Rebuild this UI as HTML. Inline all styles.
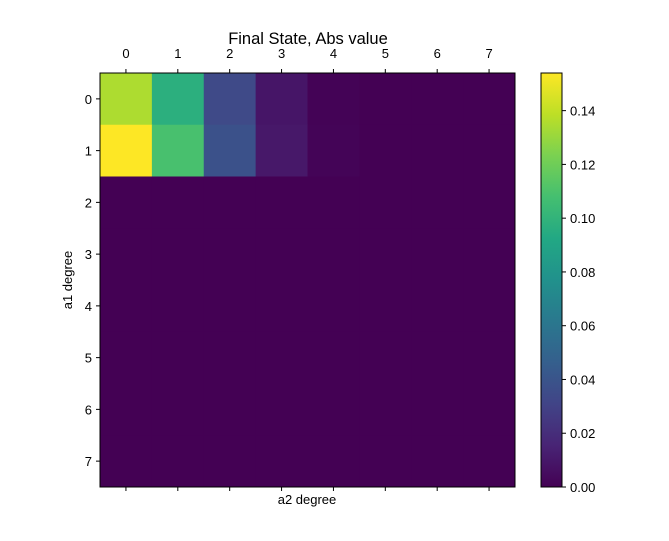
<!DOCTYPE html>
<html><head><meta charset="utf-8"><style>
body{margin:0;background:#fff;}
svg text{font-family:"Liberation Sans","DejaVu Sans",sans-serif;fill:#000;}
</style></head><body>
<svg id="c" width="669" height="536" xmlns="http://www.w3.org/2000/svg">
<defs><linearGradient id="vg" x1="0" y1="1" x2="0" y2="0"></linearGradient></defs>
<text x="308" y="44" font-size="16.5" text-anchor="middle">Final State, Abs value</text>
<text x="307" y="504" font-size="13" text-anchor="middle">a2 degree</text>
<text transform="translate(72,280) rotate(-90)" font-size="13" text-anchor="middle">a1 degree</text>
<g id="cells"></g>
<g id="axes"></g>
</svg>
<script>
const xLabels=['0','1','2','3','4','5','6','7'];
const yLabels=['0','1','2','3','4','5','6','7'];
const row0=[0.135,0.097,0.034,0.009,0.001,0,0,0];
const row1=[0.154,0.109,0.038,0.010,0.0015,0,0,0];
const rowsRest=[0,0,0,0,0,0,0,0];
const cbTicks=[0,0.02,0.04,0.06,0.08,0.10,0.12,0.14];
const vmin=0,vmax=0.154;
const values=[row0,row1,rowsRest,rowsRest,rowsRest,rowsRest,rowsRest,rowsRest];
const NS='http://www.w3.org/2000/svg';
const stops=['#440154','#482475','#414487','#355f8d','#2a788e','#21918c','#22a884','#44bf70','#7ad151','#bddf26','#fde725'];
function hx(h){return [1,3,5].map(i=>parseInt(h.substr(i,2),16));}
function viridis(t){t=Math.max(0,Math.min(1,t));const p=t*10,i=Math.min(9,Math.floor(p)),f=p-i;const a=hx(stops[i]),b=hx(stops[i+1]);return 'rgb('+a.map((v,k)=>Math.round(v+(b[k]-v)*f)).join(',')+')';}
const L=100,T=73,W=415,H=414;
const cw=W/xLabels.length,ch=H/yLabels.length;
const xs=i=>L+i*cw, ys=j=>T+j*ch;
const svg=document.getElementById('c');
const cells=document.getElementById('cells'),axes=document.getElementById('axes');
function mk(tag,attrs,parent){const e=document.createElementNS(NS,tag);for(const k in attrs)e.setAttribute(k,attrs[k]);parent.appendChild(e);return e;}
values.forEach((row,j)=>row.forEach((v,i)=>{
 const r=mk('rect',{x:xs(i),y:ys(j),width:cw+0.5,height:ch+0.5,fill:viridis((v-vmin)/(vmax-vmin))},cells);
 
 
}));
const fr=mk('rect',{x:L,y:T,width:W,height:H,fill:'none',stroke:'#000','stroke-width':1},axes);


xLabels.forEach((s,i)=>{
 const x=xs(i)+cw/2;
 mk('line',{x1:x,y1:T,x2:x,y2:T-4,stroke:'#000'},axes);
 mk('line',{x1:x,y1:T+H,x2:x,y2:T+H+4,stroke:'#000'},axes);
 const t=mk('text',{x:x,y:T-15,'font-size':13,'text-anchor':'middle'},axes);t.textContent=s;
 
 
});
yLabels.forEach((s,j)=>{
 const y=ys(j)+ch/2;
 mk('line',{x1:L,y1:y,x2:L-4,y2:y,stroke:'#000'},axes);
 const t=mk('text',{x:L-8,y:y+5,'font-size':13,'text-anchor':'end'},axes);t.textContent=s;
 
 
});
const g=document.getElementById('vg');
stops.forEach((c,i)=>mk('stop',{offset:(i/10),'stop-color':c},g));
const CL=541,CW=21;
const cy=v=>T+H-(v-vmin)/(vmax-vmin)*H;
const cb=mk('rect',{x:CL,y:T,width:CW,height:H,fill:'url(#vg)',stroke:'#000','stroke-width':1},axes);


cbTicks.forEach(v=>{
 const y=cy(v);
 mk('line',{x1:CL+CW,y1:y,x2:CL+CW+4,y2:y,stroke:'#000'},axes);
 const t=mk('text',{x:CL+CW+8,y:y+5,'font-size':13},axes);t.textContent=v.toFixed(2);
 
 
});
</script>
</body></html>
